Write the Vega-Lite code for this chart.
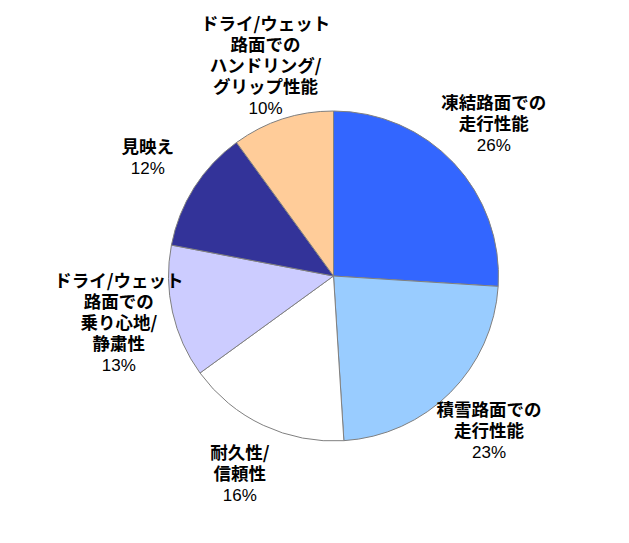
{
  "$schema": "https://vega.github.io/schema/vega-lite/v6.json",
  "autosize": {"type": "fit", "contains": "padding"},
  "width": 629,
  "height": 543,
  "padding": {"left": 38, "right": 0, "top": 9, "bottom": 0},
  "background": "white",
  "config": {"view": {"stroke": null}},
  "data": {
    "values": [
      {"id": 1, "item": "凍結路面での\n走行性能", "pct": 26},
      {"id": 2, "item": "積雪路面での\n走行性能", "pct": 23},
      {"id": 3, "item": "耐久性/\n信頼性", "pct": 16},
      {"id": 4, "item": "ドライ/ウェット\n路面での\n乗り心地/\n静粛性", "pct": 13},
      {"id": 5, "item": "見映え", "pct": 12},
      {"id": 6, "item": "ドライ/ウェット\n路面での\nハンドリング/\nグリップ性能", "pct": 10}
    ]
  },
  "transform": [
    {"stack": "pct", "sort": [{"field": "id", "order": "ascending"}], "groupby": [], "as": ["s0", "s1"]},
    {"calculate": "(datum.s0 + datum.s1) / 2", "as": "mid"},
    {"calculate": "length(split(datum.item, '\\n'))", "as": "nl"},
    {"calculate": "datum.pct + '%'", "as": "ptxt"}
  ],
  "layer": [
    {
      "mark": {"type": "arc", "outerRadius": 165, "stroke": "#808080", "strokeWidth": 1},
      "encoding": {
        "theta": {"field": "s0", "type": "quantitative", "scale": {"domain": [0, 100]}},
        "theta2": {"field": "s1"},
        "color": {
          "field": "id",
          "type": "nominal",
          "scale": {"domain": [1, 2, 3, 4, 5, 6], "range": ["#3366FF", "#99CCFF", "#FFFFFF", "#CCCCFF", "#333399", "#FFCC99"]},
          "legend": null
        }
      }
    },
    {
      "transform": [{"filter": "datum.nl == 1"}],
      "mark": {"type": "text", "radius": 220, "dy": -10.5, "font": "Noto Sans CJK JP", "fontWeight": "bold", "fontSize": 17.5, "lineHeight": 21, "lineBreak": "\n", "align": "center", "baseline": "middle", "color": "#000000"},
      "encoding": {"theta": {"field": "mid", "type": "quantitative"}, "text": {"field": "item", "type": "nominal"}}
    },
    {
      "transform": [{"filter": "datum.nl == 1"}],
      "mark": {"type": "text", "radius": 220, "dy": 10.5, "font": "Liberation Sans", "fontSize": 17, "align": "center", "baseline": "middle", "color": "#000000"},
      "encoding": {"theta": {"field": "mid", "type": "quantitative"}, "text": {"field": "ptxt", "type": "nominal"}}
    },
    {
      "transform": [{"filter": "datum.nl == 2"}],
      "mark": {"type": "text", "radius": 220, "dy": -21, "font": "Noto Sans CJK JP", "fontWeight": "bold", "fontSize": 17.5, "lineHeight": 21, "lineBreak": "\n", "align": "center", "baseline": "middle", "color": "#000000"},
      "encoding": {"theta": {"field": "mid", "type": "quantitative"}, "text": {"field": "item", "type": "nominal"}}
    },
    {
      "transform": [{"filter": "datum.nl == 2"}],
      "mark": {"type": "text", "radius": 220, "dy": 21, "font": "Liberation Sans", "fontSize": 17, "align": "center", "baseline": "middle", "color": "#000000"},
      "encoding": {"theta": {"field": "mid", "type": "quantitative"}, "text": {"field": "ptxt", "type": "nominal"}}
    },
    {
      "transform": [{"filter": "datum.nl == 4"}],
      "mark": {"type": "text", "radius": 220, "dy": -42, "font": "Noto Sans CJK JP", "fontWeight": "bold", "fontSize": 17.5, "lineHeight": 21, "lineBreak": "\n", "align": "center", "baseline": "middle", "color": "#000000"},
      "encoding": {"theta": {"field": "mid", "type": "quantitative"}, "text": {"field": "item", "type": "nominal"}}
    },
    {
      "transform": [{"filter": "datum.nl == 4"}],
      "mark": {"type": "text", "radius": 220, "dy": 42, "font": "Liberation Sans", "fontSize": 17, "align": "center", "baseline": "middle", "color": "#000000"},
      "encoding": {"theta": {"field": "mid", "type": "quantitative"}, "text": {"field": "ptxt", "type": "nominal"}}
    }
  ]
}
